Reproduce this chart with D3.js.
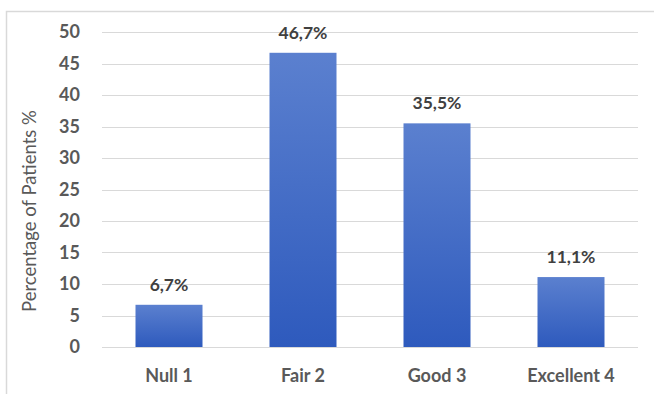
<!doctype html>
<html lang="en">
<head>
    <meta charset="utf-8"/>
    <title>Percentage of Patients</title>
    <script src="https://d3js.org/d3.v7.min.js"></script>
    <style>
        body { margin: 0; background: #fff; }
        text { font-family: Lato, "Open Sans", sans-serif; }
    </style>
</head>
<body>
<svg id="chart"></svg>
<script>
    // data
    let categories = ["Null 1", "Fair 2", "Good 3", "Excellent 4"];
    let values = [6.7, 46.7, 35.5, 11.1];
    let valueLabels = ["6,7%", "46,7%", "35,5%", "11,1%"];
    let yTicks = [0, 5, 10, 15, 20, 25, 30, 35, 40, 45, 50];

    let width = 654,
        height = 394;
    let margin = {top: 32, right: 16, bottom: 47, left: 102};

    let svg = d3.select("#chart")
        .attr("width", width)
        .attr("height", height);

    // outer frame
    svg.append("rect")
        .attr("x", 6.5)
        .attr("y", 11.5)
        .attr("width", width + 10)
        .attr("height", height + 10)
        .attr("fill", "none")
        .attr("stroke", "#d9d9d9")
        .attr("stroke-width", 1.5);

    let defs = svg.append("defs");
    let grad = defs.append("linearGradient")
        .attr("id", "barGrad")
        .attr("x1", 0).attr("y1", 0)
        .attr("x2", 0).attr("y2", 1);
    grad.append("stop").attr("offset", "0%").attr("stop-color", "#5b80cf");
    grad.append("stop").attr("offset", "100%").attr("stop-color", "#2e5abd");

    let x = d3.scaleBand()
        .domain(categories)
        .range([margin.left, width - margin.right])
        .paddingInner(0.5)
        .paddingOuter(0.25);

    let y = d3.scaleLinear()
        .domain([0, 50])
        .range([height - margin.bottom, margin.top]);

    // gridlines
    svg.append("g")
        .selectAll("line")
        .data(yTicks)
        .enter()
        .append("line")
        .attr("x1", margin.left)
        .attr("x2", width - margin.right)
        .attr("y1", d => Math.round(y(d)) + 0.5)
        .attr("y2", d => Math.round(y(d)) + 0.5)
        .attr("stroke", "#d9d9d9")
        .attr("stroke-width", 1);

    // y tick labels
    svg.append("g")
        .selectAll("text")
        .data(yTicks)
        .enter()
        .append("text")
        .attr("x", 80)
        .attr("y", d => y(d))
        .attr("dy", "0.36em")
        .attr("text-anchor", "end")
        .attr("font-size", 18)
        .attr("font-weight", "bold")
        .attr("fill", "#595959")
        .text(d => d);

    // bars
    svg.append("g")
        .selectAll("rect")
        .data(values)
        .enter()
        .append("rect")
        .attr("x", (d, i) => x(categories[i]))
        .attr("y", d => y(d))
        .attr("width", x.bandwidth())
        .attr("height", d => y(0) - y(d))
        .attr("fill", "url(#barGrad)");

    // value labels
    svg.append("g")
        .selectAll("text")
        .data(values)
        .enter()
        .append("text")
        .attr("x", (d, i) => x(categories[i]) + x.bandwidth() / 2)
        .attr("y", d => y(d) - 14)
        .attr("text-anchor", "middle")
        .attr("font-size", 17.5)
        .attr("font-weight", "bold")
        .attr("fill", "#404040")
        .text((d, i) => valueLabels[i]);

    // category labels
    svg.append("g")
        .selectAll("text")
        .data(categories)
        .enter()
        .append("text")
        .attr("x", d => x(d) + x.bandwidth() / 2)
        .attr("y", 382)
        .attr("text-anchor", "middle")
        .attr("font-size", 18)
        .attr("font-weight", "bold")
        .attr("fill", "#595959")
        .text(d => d);

    // y axis title
    svg.append("text")
        .attr("transform", "translate(36,211) rotate(-90)")
        .attr("text-anchor", "middle")
        .attr("font-size", 18.5)
        .attr("fill", "#595959")
        .text("Percentage of Patients %");
</script>
</body>
</html>
